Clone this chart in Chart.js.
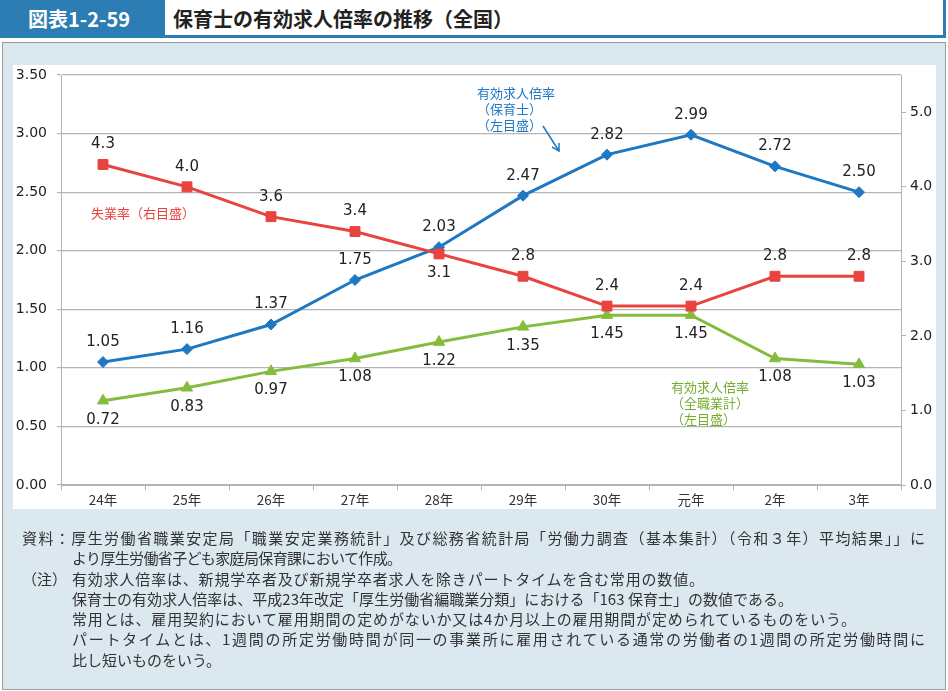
<!DOCTYPE html>
<html>
<head>
<meta charset="utf-8">
<script src="https://cdn.jsdelivr.net/npm/chart.js@4/dist/chart.umd.min.js"></script>
<style>
  html,body{margin:0;padding:0;background:#fff;}
  body{width:948px;height:691px;position:relative;overflow:hidden;font-family:"Noto Sans CJK JP","Noto Sans",sans-serif;}
  .abs{position:absolute;white-space:nowrap;}
  #hdr{left:0;top:0;width:946px;height:38px;background:#2c7db3;}
  #hdrbox{left:165px;top:0;width:778px;height:35px;background:#fff;}
  #fig{left:28px;top:4px;font-size:20px;font-weight:bold;color:#fff;line-height:30px;}
  #ttl{left:173px;top:4px;font-size:20px;font-weight:bold;color:#222;line-height:30px;}
  #panel{left:2px;top:42px;width:942px;height:646px;background:#dce8f0;border:1px solid #9c9c9c;}
  #white{left:13px;top:65px;width:923px;height:444px;background:#fff;}
  #c{position:absolute;left:13px;top:65px;}
  .ann{font-size:13px;line-height:16px;}
  .note{font-size:15px;line-height:20px;color:#333;}
</style>
</head>
<body>
<div id="hdr" class="abs"></div>
<div id="hdrbox" class="abs"></div>
<div id="fig" class="abs">図表1-2-59</div>
<div id="ttl" class="abs">保育士の有効求人倍率の推移（全国）</div>
<div id="panel" class="abs"></div>
<div id="white" class="abs"></div>
<canvas id="c" width="923" height="444"></canvas>

<div class="abs ann" style="left:477px;top:85px;color:#1e78c2;">有効求人倍率<br>（保育士）<br>（左目盛）</div>
<div class="abs ann" style="left:91px;top:205px;color:#e8433f;">失業率（右目盛）</div>
<div class="abs ann" style="left:671px;top:379px;color:#74ad2e;">有効求人倍率<br>（全職業計）<br>（左目盛）</div>
<svg class="abs" style="left:0;top:0;" width="948" height="691">
  <g stroke="#1e78c2" stroke-width="1.5" fill="none">
    <line x1="543" y1="126" x2="559" y2="151"/>
    <polyline points="552,147 559,151 559,143"/>
  </g>
</svg>

<div class="abs note" data-w="903" style="left:22px;top:528px;">資料：厚生労働省職業安定局「職業安定業務統計」及び総務省統計局「労働力調査（基本集計）（令和３年）平均結果」」に</div>
<div class="abs note" data-w="330" style="left:72px;top:548px;">より厚生労働省子ども家庭局保育課において作成。</div>
<div class="abs note" style="left:22px;top:569px;">（注）</div>
<div class="abs note" data-w="632" style="left:72px;top:569px;">有効求人倍率は、新規学卒者及び新規学卒者求人を除きパートタイムを含む常用の数値。</div>
<div class="abs note" data-w="721" style="left:72px;top:589px;">保育士の有効求人倍率は、平成23年改定「厚生労働省編職業分類」における「163 保育士」の数値である。</div>
<div class="abs note" data-w="784" style="left:72px;top:609px;">常用とは、雇用契約において雇用期間の定めがないか又は4か月以上の雇用期間が定められているものをいう。</div>
<div class="abs note" data-w="853" style="left:72px;top:629px;">パートタイムとは、1週間の所定労働時間が同一の事業所に雇用されている通常の労働者の1週間の所定労働時間に</div>
<div class="abs note" style="left:72px;top:650px;">比し短いものをいう。</div>

<script>
// ---- data ----
const categories = ["24年","25年","26年","27年","28年","29年","30年","元年","2年","3年"];
const hoikushi   = [1.05,1.16,1.37,1.75,2.03,2.47,2.82,2.99,2.72,2.50];
const zenshoku   = [0.72,0.83,0.97,1.08,1.22,1.35,1.45,1.45,1.08,1.03];
const shitsugyo  = [4.3,4.0,3.6,3.4,3.1,2.8,2.4,2.4,2.8,2.8];
const leftTicks  = [0,0.5,1,1.5,2,2.5,3,3.5];
const rightTicks = [0,1,2,3,4,5];

// fit note lines to measured widths
document.querySelectorAll('.note[data-w]').forEach(el=>{
  const target = +el.dataset.w;
  const nat = el.getBoundingClientRect().width;
  const n = el.textContent.length;
  el.style.letterSpacing = ((target - nat)/(n-1)).toFixed(3)+'px';
});

const labelPlugin = {
  id:'labels',
  afterDatasetsDraw(chart){
    const ctx = chart.ctx;
    ctx.save();
    ctx.font = '15px "DejaVu Sans", sans-serif';
    ctx.fillStyle = '#222';
    ctx.textAlign = 'center';
    ctx.textBaseline = 'middle';
    chart.data.datasets.forEach((ds,di)=>{
      const meta = chart.getDatasetMeta(di);
      meta.data.forEach((pt,i)=>{
        const below = ds.labelBelow[i];
        const y = pt.y + (below ? 19 : -20);
        ctx.fillText(ds.data[i].toFixed(ds.digits), pt.x, y);
      });
    });
    ctx.restore();
  }
};

function fitV(w){ return s=>{ s.width = w; s.paddingTop = 0; s.paddingBottom = 0; }; }

const grey = '#b4b4b4';
new Chart(document.getElementById('c'), {
  type:'line',
  data:{
    labels:categories,
    datasets:[
      {label:'失業率', data:shitsugyo, yAxisID:'y1', order:0, digits:1,
       labelBelow:[0,0,0,0,1,0,0,0,0,0],
       borderColor:'#e8433f', backgroundColor:'#e8433f', borderWidth:3,
       pointStyle:'rect', pointRadius:7, pointBorderWidth:1, pointBorderColor:'#e8433f'},
      {label:'保育士', data:hoikushi, yAxisID:'y', order:1, digits:2,
       labelBelow:[0,0,0,0,0,0,0,0,0,0],
       borderColor:'#1e78c2', backgroundColor:'#1e78c2', borderWidth:3,
       pointStyle:'rectRot', pointRadius:5.5, pointBorderWidth:1, pointBorderColor:'#1e78c2'},
      {label:'全職業計', data:zenshoku, yAxisID:'y', order:2, digits:2,
       labelBelow:[1,1,1,1,1,1,1,1,1,1],
       borderColor:'#86bc3d', backgroundColor:'#86bc3d', borderWidth:3,
       pointStyle:'triangle', pointRadius:6.5, pointBorderWidth:1, pointBorderColor:'#86bc3d'}
    ]
  },
  options:{
    responsive:false, animation:false, devicePixelRatio:1,
    layout:{padding:{top:10,left:0,right:0,bottom:0}},
    plugins:{legend:{display:false}, tooltip:{enabled:false}},
    elements:{line:{tension:0}},
    scales:{
      x:{
        offset:true,
        grid:{drawOnChartArea:false, drawTicks:true, tickLength:5, color:grey, offset:true},
        border:{color:grey, width:1},
        ticks:{font:{size:13.5, family:'"Noto Sans CJK JP"'}, color:'#333', padding:2, maxRotation:0},
        afterFit(s){ s.height = 24; s.paddingLeft = 0; s.paddingRight = 0; }
      },
      y:{
        position:'left', min:0, max:3.5,
        afterBuildTicks(s){ s.ticks = leftTicks.map(v=>({value:v})); },
        grid:{color:grey, tickLength:4, lineWidth:1.2},
        border:{color:grey, width:1},
        ticks:{font:{size:14, family:'"DejaVu Sans"'}, color:'#222', padding:10,
               callback:v=>Number(v).toFixed(2)},
        afterFit:fitV(48)
      },
      y1:{
        position:'right', min:0, max:5.5,
        afterBuildTicks(s){ s.ticks = rightTicks.map(v=>({value:v})); },
        grid:{drawOnChartArea:false, color:grey, tickLength:5},
        border:{color:grey, width:1},
        ticks:{font:{size:14, family:'"DejaVu Sans"'}, color:'#222', padding:4,
               callback:v=>Number(v).toFixed(1)},
        afterFit:fitV(35)
      }
    }
  },
  plugins:[labelPlugin]
});
</script>
</body>
</html>
